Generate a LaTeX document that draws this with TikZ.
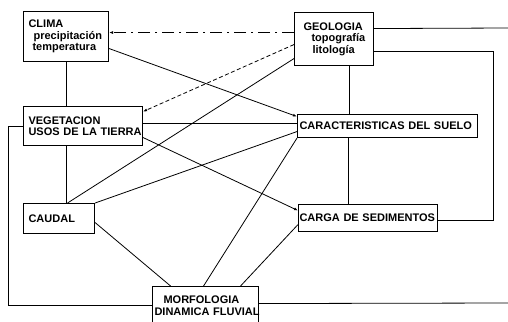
\documentclass[tikz,border=0pt]{standalone}
\usepackage{fontspec}
\setmainfont{Liberation Sans}
\usetikzlibrary{arrows.meta}

\begin{document}
\begin{tikzpicture}[x=1pt, y=-1pt, line width=0.8pt,
                    caja/.style={draw, line width=1.1pt, anchor=north west, align=left,
                                 inner xsep=5pt, inner ysep=0pt,
                                 font=\bfseries\fontsize{11}{11.5}\selectfont},
                    flecha/.style={-{Latex[length=4pt,width=3pt]}}]

\useasboundingbox (0,0) rectangle (508,321);
\clip (0,0) rectangle (508,321);

\node[caja, minimum width=85, minimum height=50, text width=75] (clima) at (23,11)
  {\mbox{CLIMA}\\\mbox{\hspace*{5pt}precipitación}\\\mbox{\hspace*{4pt}temperatura}};
\node[caja, minimum width=79, minimum height=53, text width=69] (geo) at (294,12)
  {\mbox{\hspace*{4pt}GEOLOGIA}\\\mbox{\hspace*{12pt}topografía}\\\mbox{\hspace*{13pt}litología}};
\node[caja, minimum width=119, minimum height=39, text width=109] (veg) at (23,106)
  {\mbox{VEGETACION}\\\mbox{USOS DE LA TIERRA}};
\node[caja, minimum width=180, minimum height=23, text width=176, inner xsep=2pt] (suelo) at (297,114)
  {\mbox{CARACTERISTICAS DEL SUELO}};
\node[caja, minimum width=71, minimum height=30, text width=61] (caudal) at (23,203)
  {\mbox{CAUDAL}};
\node[caja, minimum width=139, minimum height=27, text width=137, inner xsep=1pt] (carga) at (298,204)
  {\mbox{CARGA DE SEDIMENTOS}};
\node[caja, minimum width=106, minimum height=38, text width=102, inner xsep=2pt] (morfo) at (152,286)
  {\mbox{\hspace*{9pt}MORFOLOGIA}\\\mbox{DINAMICA FLUVIAL}};

\coordinate (borde1) at (508,28);
\coordinate (borde2) at (508,303);

% enlaces verticales
\draw (clima.south) -- (clima.south |- veg.north);
\draw (clima.south |- veg.south) -- (clima.south |- caudal.north);
\draw ([xshift=15.5pt]geo.south) -- ([xshift=15.5pt]geo.south |- suelo.north);
\draw ([xshift=-19.5pt]carga.north) -- ([xshift=-19.5pt]carga.north |- suelo.south);

% desde clima y geologia
\draw[flecha, dash pattern=on 12pt off 5pt on 2pt off 5pt] ([yshift=6.5pt]geo.west) -- ([yshift=4pt]clima.east);
\draw[flecha] ([yshift=-12pt]clima.east) -- ([yshift=9.5pt]suelo.west);
\draw[flecha, dash pattern=on 4pt off 2.5pt] ([yshift=-5.5pt]geo.west) -- ([yshift=14.5pt]veg.east);
\draw ([yshift=-19.5pt]geo.west) -- ([xshift=8.5pt]caudal.north);
\draw ([yshift=10.5pt]geo.east) -- (borde1);
\draw ([yshift=-12.5pt]geo.east) -- ++(119,0) |- ([yshift=-2.5pt]carga.east);

% desde vegetacion
\draw ([yshift=3pt]veg.east) -- ([yshift=3pt]veg.east -| suelo.west);
\draw[flecha] ([yshift=-11.5pt]veg.east) -- ([yshift=7.5pt]carga.west);
\draw (veg.west) -- ++(-15,0) |- (morfo.west);

% caudal y morfologia
\draw (caudal.north east) -- ([yshift=-5.5pt]suelo.west);
\draw ([yshift=-4pt]caudal.east) -- ([xshift=-35pt]morfo.north);
\draw ([xshift=-2pt]morfo.north) -- (suelo.south west);
\draw ([xshift=35pt]morfo.north) -- ([yshift=-6.5pt]carga.west);
\draw ([yshift=2pt]morfo.east) -- (borde2);
\end{tikzpicture}
\end{document}
